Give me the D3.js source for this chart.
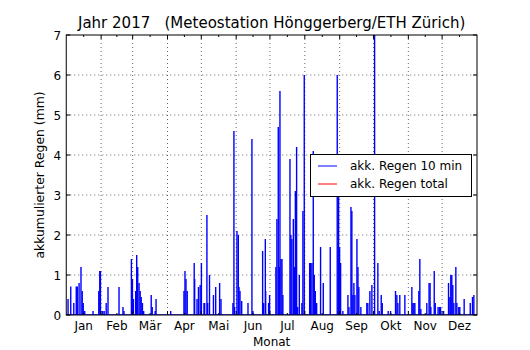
<!DOCTYPE html>
<html><head><meta charset="utf-8">
<script src="https://cdn.jsdelivr.net/npm/d3@7"></script>
<style>body{margin:0;background:#fff}svg{display:block}text{font-family:"DejaVu Sans",sans-serif;fill:#000;white-space:pre}</style>
</head><body><svg id="c" width="530" height="350"></svg>
<script>
// 10-minute rain spikes: day of year (0 = 1 Jan 00:00) and mm
const rainDays = [1.6,4.0,6.7,8.9,9.8,11.4,13.1,14.2,15.1,16.4,23.8,28.9,29.8,30.4,32.4,33.7,35.5,37.1,46.9,50.4,51.3,
57.9,58.8,59.7,61.7,62.6,63.5,64.7,65.7,66.6,67.7,68.8,75.5,76.4,79.0,79.8,92.8,
104.6,105.5,106.4,107.5,113.7,114.1,116.2,117.5,119.0,120.1,122.4,123.0,125.0,125.7,127.3,130.8,132.8,136.3,137.5,
148.1,149.0,149.6,151.7,152.9,153.5,154.4,155.9,161.5,165.0,165.9,174.5,175.4,176.9,177.2,179.8,180.7,
186.3,187.2,188.4,189.3,189.9,190.8,191.7,192.5,198.8,199.6,200.5,201.8,202.7,203.6,204.7,205.6,207.1,209.4,210.3,211.5,
216.3,217.1,218.3,219.5,220.4,221.3,222.5,226.0,228.4,234.6,240.8,242.0,242.9,243.8,245.8,
250.3,251.2,253.0,253.8,254.7,255.6,256.5,258.3,259.2,260.0,261.8,267.1,268.0,269.8,271.6,274.0,
276.9,278.1,279.9,280.8,286.1,288.2,292.6,293.8,294.7,296.4,300.9,307.1,308.0,308.9,309.8,313.3,314.2,315.1,
320.4,322.4,323.3,324.0,327.0,327.9,330.4,331.7,332.6,335.3,339.7,340.9,341.7,342.6,343.5,344.4,346.2,347.1,348.8,349.7,
353.6,359.0,361.0,362.2];
const rainMm = [0.4,0.71,0.3,0.71,0.71,0.8,1.2,0.6,0.3,0.1,0.1,0.6,1.1,1.1,0.1,0.1,0.3,0.7,0.7,0.2,0.1,
1.4,0.9,0.4,0.6,1.5,1.2,0.8,0.6,0.45,0.3,0.1,0.5,0.2,0.1,0.4,0.1,
0.6,1.1,0.9,0.6,1.3,0.9,0.4,0.7,0.75,1.3,0.3,0.3,2.5,0.3,1.0,0.5,0.7,0.8,0.4,
0.3,4.6,0.2,2.1,2.0,0.7,0.6,0.35,0.3,4.4,0.1,1.6,0.3,1.9,0.6,0.3,0.5,
1.2,2.4,4.7,1.2,5.6,1.4,1.4,0.5,3.9,2.0,1.9,2.4,1.2,3.1,4.2,0.2,1.0,0.3,2.6,6.0,
1.3,1.3,1.3,4.1,1.0,0.6,0.3,1.7,0.8,1.7,6.0,3.0,1.7,1.3,0.1,
0.5,0.2,2.7,2.6,0.5,0.8,0.5,1.9,1.2,0.7,0.2,0.3,0.3,0.6,0.75,7.5,
1.3,0.1,0.5,0.3,0.1,0.1,0.6,0.5,0.3,0.5,0.5,0.7,0.3,0.3,0.3,0.6,1.4,0.15,
0.3,0.8,0.8,0.2,1.1,0.3,0.2,0.2,0.2,0.1,0.8,0.45,1.0,1.0,0.75,0.3,1.2,0.3,0.2,0.2,
0.4,0.3,0.45,0.5];
const monthLabels = ["Jan","Feb","Mär","Apr","Mai","Jun","Jul","Aug","Sep","Okt","Nov","Dez"];
const yTicks = [0,1,2,3,4,5,6,7];
const seriesNames = ["akk. Regen 10 min","akk. Regen total"];
const seriesColors = ["#0000ff","#ff0000"];
const titleText = "Jahr 2017   (Meteostation Hönggerberg/ETH Zürich)";

const svg = d3.select("#c");
const m = {l:66.25, r:477, t:35, b:315};
const t0 = new Date(2017,0,1), t1 = new Date(2018,0,1);
const x = d3.scaleTime().domain([t0,t1]).range([m.l,m.r]);
const y = d3.scaleLinear().domain([0,7]).range([m.b,m.t]);
const dayToDate = d => new Date(t0.getTime() + d*86400000);

const monthStarts = d3.timeMonth.range(t0,t1);
const monthMids = monthStarts.map(d => new Date(d.getTime() + (d3.timeMonth.offset(d,1)-d)/2));

svg.append("defs").append("clipPath").attr("id","clip").append("rect")
  .attr("x",m.l).attr("y",m.t).attr("width",m.r-m.l).attr("height",m.b-m.t);

// grid
const g = svg.append("g");
g.selectAll(".gx").data(monthStarts.slice(1)).enter().append("line")
  .attr("x1",d=>x(d)).attr("x2",d=>x(d)).attr("y1",m.t).attr("y2",m.b)
  .attr("stroke","#000").attr("stroke-width",0.6).attr("stroke-dasharray","1,3");
g.selectAll(".gy").data(yTicks.slice(1,-1)).enter().append("line")
  .attr("x1",m.l).attr("x2",m.r).attr("y1",d=>y(d)).attr("y2",d=>y(d))
  .attr("stroke","#000").attr("stroke-width",0.6).attr("stroke-dasharray","1,3");

// data
const line = d3.line().x(p=>x(p[0])).y(p=>y(p[1]));
const plot = svg.append("g").attr("clip-path","url(#clip)");
plot.append("path").attr("d", line([[t0,0],[t1,0]])).attr("stroke",seriesColors[0]).attr("stroke-width",1.5).attr("fill","none");
plot.selectAll(".sp").data(rainDays.map((d,i)=>[dayToDate(d),rainMm[i]])).enter().append("path")
  .attr("d",p=>line([[p[0],0],[p[0],p[1]]]))
  .attr("stroke",seriesColors[0]).attr("stroke-width",1.4).attr("fill","none");

// frame
svg.append("rect").attr("x",m.l).attr("y",m.t).attr("width",m.r-m.l).attr("height",m.b-m.t)
  .attr("fill","none").attr("stroke","#000").attr("stroke-width",1);

// ticks (inside)
const tk = svg.append("g").attr("stroke","#000").attr("stroke-width",1);
monthStarts.slice(1).forEach(d=>{
  tk.append("line").attr("x1",x(d)).attr("x2",x(d)).attr("y1",m.b).attr("y2",m.b-4);
  tk.append("line").attr("x1",x(d)).attr("x2",x(d)).attr("y1",m.t).attr("y2",m.t+4);
});
monthMids.forEach(d=>{
  tk.append("line").attr("x1",x(d)).attr("x2",x(d)).attr("y1",m.b).attr("y2",m.b-2);
  tk.append("line").attr("x1",x(d)).attr("x2",x(d)).attr("y1",m.t).attr("y2",m.t+2);
});
yTicks.forEach(v=>{
  tk.append("line").attr("x1",m.l).attr("x2",m.l+4).attr("y1",y(v)).attr("y2",y(v));
  tk.append("line").attr("x1",m.r).attr("x2",m.r-4).attr("y1",y(v)).attr("y2",y(v));
});

// tick labels
svg.selectAll(".xl").data(monthMids).enter().append("text")
  .attr("x",d=>x(d)).attr("y",m.b+15).attr("text-anchor","middle").attr("font-size",12)
  .text((d,i)=>monthLabels[i]);
svg.selectAll(".yl").data(yTicks).enter().append("text")
  .attr("x",m.l-5).attr("y",d=>y(d)+4.5).attr("text-anchor","end").attr("font-size",12)
  .text(d=>d);

svg.append("text").attr("x",(m.l+m.r)/2).attr("y",346).attr("text-anchor","middle").attr("font-size",12).text("Monat");
svg.append("text").attr("transform",`translate(44,${(m.t+m.b)/2}) rotate(-90)`).attr("text-anchor","middle").attr("font-size",12.4).text("akkumulierter Regen (mm)");
svg.append("text").attr("x",(m.l+m.r)/2).attr("y",28).attr("text-anchor","middle").attr("font-size",15).attr("xml:space","preserve").text(titleText);

// legend
const lg = svg.append("g");
lg.append("rect").attr("x",310.5).attr("y",154.5).attr("width",161).attr("height",42)
  .attr("fill","#fff").attr("stroke","#000").attr("stroke-width",1);
seriesNames.forEach((n,i)=>{
  const yy = 166 + i*18;
  lg.append("line").attr("x1",318).attr("x2",337).attr("y1",yy).attr("y2",yy).attr("stroke",seriesColors[i]).attr("stroke-width",1);
  lg.append("text").attr("x",350).attr("y",yy+4.3).attr("font-size",12).text(n);
});
</script></body></html>
